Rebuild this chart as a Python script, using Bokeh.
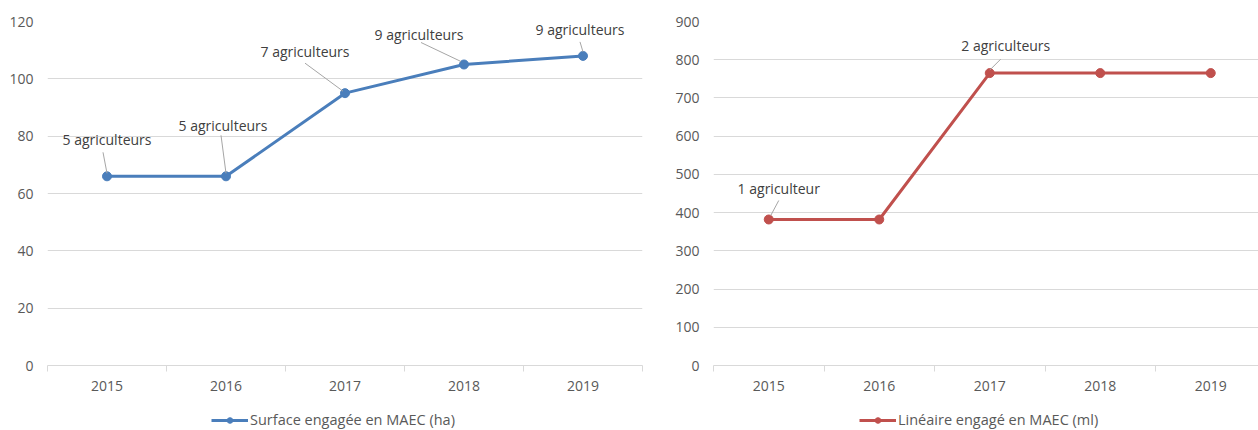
from bokeh.plotting import figure
from bokeh.layouts import row, column
from bokeh.models import FixedTicker, Legend, LegendItem, Range1d
from bokeh.core.properties import value
from bokeh.embed import file_html
from bokeh.resources import INLINE

# ---------------- data ----------------
years = ["2015", "2016", "2017", "2018", "2019"]
surface_ha = [66, 66, 95, 105, 108]
surface_labels = ["5 agriculteurs", "5 agriculteurs", "7 agriculteurs", "9 agriculteurs", "9 agriculteurs"]
lineaire_ml = [382, 382, 765, 765, 765]
lineaire_labels = ["1 agriculteur", "", "2 agriculteurs", "", ""]
surface_name = "Surface engagée en MAEC (ha)"
lineaire_name = "Linéaire engagé en MAEC (ml)"

# ---------------- style / layout ----------------
FONT = "Open Sans"
TXT = "#595959"
LBL = "#404040"
GRID = "#d9d9d9"
LEADER = "#a6a6a6"
BLUE = "#4a7ebb"
RED = "#c0504d"
FS = "14px"
FRAME_H = 344
TOP = 21
BOTTOM = 35
LEG_H = 30

# label offsets (screen px, y down) relative to data point
surf_lab_off = [(0, -37), (-3, -51), (-40, -42), (-45, -30), (-3, -26)]
surf_lead = [((0, -3), (-4, -24)), ((0, -3), (-5, -41)), ((-2, -2), (-40, -30)),
             ((-3, -3), (-43, -22)), ((0, -4), (-3, -14))]
lin_lab_off = [(10, -31), (0, 0), (16, -28), (0, 0), (0, 0)]
lin_lead = [((2, -4), (10, -19)), None, ((0, -3), (11, -14)), None, None]


def make_chart(vals, labels, color, ymax, ystep, bl, br, xend,
               lab_off, lead, frame_w):
    n = len(vals)
    xs = list(range(n))
    p = figure(frame_width=frame_w, frame_height=FRAME_H,
               output_backend="svg", toolbar_location=None,
               x_range=Range1d(-0.5, xend), y_range=Range1d(0, ymax),
               min_border_left=bl, min_border_right=br, min_border_top=TOP,
               min_border_bottom=BOTTOM)
    p.outline_line_color = None
    p.xgrid.grid_line_color = None
    p.ygrid.grid_line_color = GRID
    p.ygrid.grid_line_width = 1

    p.yaxis.ticker = FixedTicker(ticks=list(range(0, ymax + 1, ystep)))
    p.yaxis.axis_line_color = None
    p.yaxis.major_tick_line_color = None
    p.yaxis.minor_tick_line_color = None
    p.yaxis.major_tick_out = 0
    p.yaxis.major_label_standoff = 14
    p.yaxis.major_label_text_font = FONT
    p.yaxis.major_label_text_font_size = FS
    p.yaxis.major_label_text_color = TXT

    p.xaxis.ticker = FixedTicker(ticks=xs, minor_ticks=[i - 0.5 for i in range(n + 1)])
    p.xaxis.major_label_overrides = {i: y for i, y in enumerate(years)}
    p.xaxis.axis_line_color = GRID
    p.xaxis.major_tick_line_color = None
    p.xaxis.major_tick_out = 0
    p.xaxis.major_tick_in = 0
    p.xaxis.minor_tick_line_color = GRID
    p.xaxis.minor_tick_out = 6
    p.xaxis.minor_tick_in = 0
    p.xaxis.major_label_standoff = 9
    p.xaxis.major_label_text_font = FONT
    p.xaxis.major_label_text_font_size = FS
    p.xaxis.major_label_text_color = TXT

    p.line(xs, vals, line_color=color, line_width=3)
    p.scatter(xs, vals, size=9, fill_color=color, line_color=color)

    # leader lines (pixel offsets converted to data units)
    px_x = frame_w / (xend + 0.5)
    px_y = FRAME_H / ymax
    x0, y0, x1, y1 = [], [], [], []
    for i, (v, l) in enumerate(zip(vals, lead)):
        if l is None or labels[i] == "":
            continue
        (a, b), (c, d) = l
        x0.append(i + a / px_x); y0.append(v - b / px_y)
        x1.append(i + c / px_x); y1.append(v - d / px_y)
    p.segment(x0, y0, x1, y1, line_color=LEADER, line_width=1)

    p.text(xs, vals, text=labels,
           x_offset=[o[0] for o in lab_off], y_offset=[o[1] for o in lab_off],
           text_align="center", text_baseline="middle",
           text_font=value(FONT), text_font_size=FS, text_color=LBL)
    return p


def make_legend(vals, name, color, width, leg_x):
    # legend strip: the series is plotted out of view so only the legend shows
    xs = list(range(len(vals)))
    f = figure(width=width, height=LEG_H, output_backend="svg", toolbar_location=None,
               x_range=Range1d(-0.5, len(vals) - 0.5),
               y_range=Range1d(-2 * max(vals) - 1, -max(vals) - 1),
               x_axis_location=None, y_axis_location=None,
               min_border=0)
    f.outline_line_color = None
    f.grid.grid_line_color = None
    ln = f.line(xs, vals, line_color=color, line_width=3)
    sc = f.scatter(xs, vals, size=12, fill_color=color, line_color=color)
    leg = Legend(items=[LegendItem(label=name, renderers=[ln, sc])],
                 location=(leg_x, 1), orientation="horizontal",
                 border_line_color=None, background_fill_alpha=0,
                 glyph_width=37, glyph_height=14, label_standoff=2,
                 padding=0, margin=0, spacing=0,
                 label_text_font=FONT, label_text_font_size="14.5px",
                 label_text_color=TXT, label_height=14)
    f.add_layout(leg)
    return f


p1 = make_chart(surface_ha, surface_labels, BLUE, 120, 20,
                47, 16, 4.5, surf_lab_off, surf_lead, 595)
p2 = make_chart(lineaire_ml, lineaire_labels, RED, 900, 100,
                55, 0, -0.5 + 545 / 110.5, lin_lab_off, lin_lead, 545)
l1 = make_legend(surface_ha, surface_name, BLUE, 658, 211)
l2 = make_legend(lineaire_ml, lineaire_name, RED, 600, 201)

layout = column(row(p1, p2), row(l1, l2))
open("out.html", "w").write(file_html(layout, INLINE))
